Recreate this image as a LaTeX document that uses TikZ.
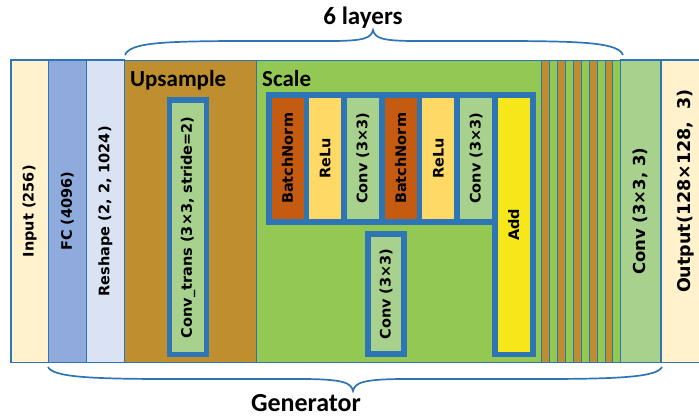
\documentclass[tikz,border=0pt]{standalone}
\usepackage{fontspec}
\setmainfont{Carlito}
\newfontfamily\layerfont{DejaVu Sans}
\definecolor{frameblue}{HTML}{2E75B6}
\definecolor{cream}{HTML}{FFF2CC}
\definecolor{fcblue}{HTML}{8FAADC}
\definecolor{paleblue}{HTML}{DAE3F3}
\definecolor{ochre}{HTML}{BF8F2F}
\definecolor{grass}{HTML}{93C852}
\definecolor{sage}{HTML}{A9D18E}
\definecolor{rust}{HTML}{C55A11}
\definecolor{butter}{HTML}{FFD966}
\definecolor{lemon}{HTML}{F5E71A}
\begin{document}
\begin{tikzpicture}[x=1pt,y=-1pt,
	layer/.style={draw=frameblue,line width=1.3pt,rotate=90,inner sep=0pt,minimum width=302.5pt,
		font=\layerfont\bfseries\fontsize{14.5}{16}\selectfont},
	stripe/.style={layer,line width=0.7pt,minimum height=7.9pt},
	op/.style={draw=frameblue,line width=5.8pt,rotate=90,inner sep=0pt,minimum height=37.7pt,
		font=\layerfont\bfseries\fontsize{14.5}{16}\selectfont},
	title/.style={inner sep=0pt,font=\bfseries\fontsize{23}{26}\selectfont},
	brace/.style={draw=frameblue,line width=1.7pt}]
	\useasboundingbox (0,0) rectangle (699,418);
	\clip (0,0) rectangle (699,418);

	% main strip
	\node (input)    [layer,fill=cream,minimum height=37.3pt]    at (29.65,211.25) {Input (256)};
	\node (fc)       [layer,fill=fcblue,minimum height=38.2pt]   at (67.4,211.25)  {FC (4096)};
	\node (reshape)  [layer,fill=paleblue,minimum height=37.8pt] at (105.4,211.25) {Reshape (2, 2, 1024)};
	\node (upsample) [layer,line width=0.9pt,fill=ochre,minimum height=132.4pt] at (190.5,211.25) {};
	\node (scale)    [layer,line width=0.9pt,fill=grass,minimum height=285pt]   at (399.2,211.25) {};
	\foreach \i in {0,...,4} {
		\node (up\i) [stripe,fill=ochre] at ({545.65+15.8*\i},211.25) {};
		\node (sc\i) [stripe,fill=grass] at ({553.55+15.8*\i},211.25) {};
	}
	\node (conv)     [layer,fill=sage,minimum height=40.3pt,
		font=\layerfont\bfseries\fontsize{16.5}{18}\selectfont] at (640.85,211.25) {Conv (3×3, 3)};
	\node (outcol)   [layer,fill=cream,minimum height=80pt]      at (701,211.25)   {};
	\node (output)   [rotate=90,inner sep=0pt,
		font=\layerfont\bfseries\fontsize{17.5}{19}\selectfont] at (685.5,191) {Output(128×128, ~3)};

	\node (uplabel) [title,anchor=base west] at (130,86) {Upsample};
	\node (sclabel) [title,anchor=base west] at (262,86) {Scale};

	% blocks
	\node (convtrans) [op,fill=sage,minimum width=254.4pt,minimum height=37pt] at (188,227.3) {Conv\_trans (3×3, stride=2)};
	\node (bn1)   [op,fill=rust,minimum width=127.5pt]   at (287.55,158.35) {BatchNorm};
	\node (relu1) [op,fill=butter,minimum width=127.5pt] at (325.25,158.35) {ReLu};
	\node (conv1) [op,fill=sage,minimum width=127.5pt]   at (362.95,158.35) {Conv (3×3)};
	\node (bn2)   [op,fill=rust,minimum width=127.5pt]   at (400.65,158.35) {BatchNorm};
	\node (relu2) [op,fill=butter,minimum width=127.5pt] at (438.35,158.35) {ReLu};
	\node (conv2) [op,fill=sage,minimum width=127.5pt]   at (476.05,158.35) {Conv (3×3)};
	\node (add)   [op,fill=lemon,minimum width=259.5pt]  at (513.75,224.65) {Add};
	\node (skip)  [op,fill=sage,minimum width=120.4pt,minimum height=36.4pt] at (386,294) {Conv (3×3)};

	% braces
	\draw[brace] (125,55) .. controls (130,43) and (160,41.5) .. (230,41) -- (330,41)
		.. controls (365,41) and (371,38) .. (373,30) .. controls (375,38) and (381,41) .. (416,41)
		-- (516,41) .. controls (586,41.5) and (618,43) .. (623,55);
	\node (layers) [title,anchor=base,font=\bfseries\fontsize{25}{28}\selectfont] at (363,24) {6 layers};

	\draw[brace] (48,367) .. controls (53,377) and (90,379) .. (170,379) -- (300,379)
		.. controls (345,379) and (351,383) .. (353,391) .. controls (355,383) and (361,379) .. (406,379)
		-- (540,379) .. controls (620,379) and (657,377) .. (662,367);
	\node (gen) [title,anchor=base,font=\bfseries\fontsize{26}{29}\selectfont] at (306,411.7) {Generator};
\end{tikzpicture}
\end{document}
